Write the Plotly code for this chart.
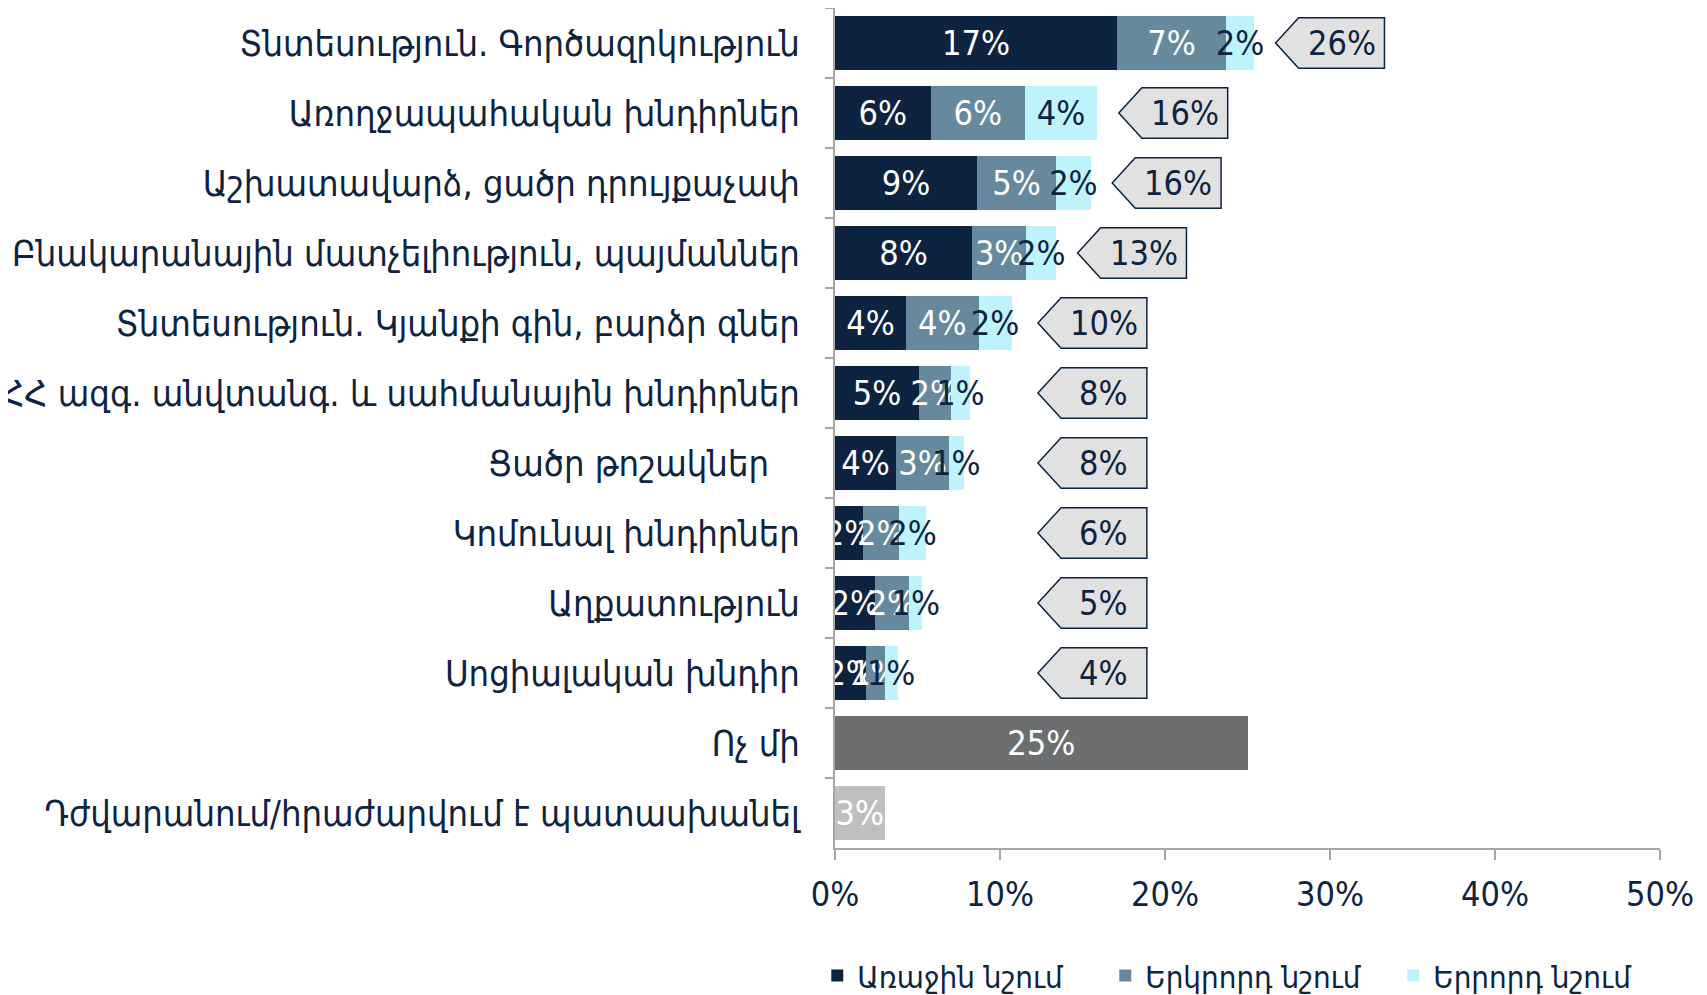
import plotly.graph_objects as go

# categories, top to bottom
categories = [
    "Տնտեսություն. Գործազրկություն",
    "Առողջապահական խնդիրներ",
    "Աշխատավարձ, ցածր դրույքաչափ",
    "Բնակարանային մատչելիություն, պայմաններ",
    "Տնտեսություն. Կյանքի գին, բարձր գներ",
    "ՀՀ ազգ. անվտանգ. և սահմանային խնդիրներ",
    "Ցածր թոշակներ\u00a0\u00a0\u00a0",
    "Կոմունալ խնդիրներ",
    "Աղքատություն",
    "Սոցիալական խնդիր",
    "Ոչ մի",
    "Դժվարանում/հրաժարվում է պատասխանել",
]

# first / second / third mention, % (only the first ten rows)
first_mention = [17.1, 5.8, 8.6, 8.3, 4.3, 5.1, 3.7, 1.7, 2.4, 1.9]
second_mention = [6.6, 5.7, 4.8, 3.3, 4.4, 1.9, 3.2, 2.2, 2.1, 1.1]
third_mention = [1.7, 4.4, 2.1, 1.8, 2.0, 1.2, 0.9, 1.6, 0.8, 0.8]
totals = [26, 16, 16, 13, 10, 8, 8, 6, 5, 4]
none_value = 25.0
refuse_value = 3.0

series_names = ["Առաջին նշում", "Երկրորդ նշում", "Երրորդ նշում"]
series_colors = ["#0e2340", "#66899e", "#bff3fc"]
text_colors = ["white", "white", "#0e2340"]

NAVY = "#0e2340"
AXIS_GREY = "#a6a6a6"
LABEL_FONT = "DejaVu Sans Condensed, DejaVu Sans, sans-serif"
CAT_FONT = "DejaVu Sans Condensed, DejaVu Sans, sans-serif"

n_rows = len(totals)
pad = [None] * (len(categories) - n_rows)

fig = go.Figure()
for vals, name, color, tcolor in zip([first_mention, second_mention, third_mention],
                                     series_names, series_colors, text_colors):
    fig.add_trace(go.Bar(y=categories, x=vals + pad, orientation='h', name=name,
                         marker=dict(color=color, line=dict(width=0)),
                         text=[f"{round(v)}%" for v in vals] + [""] * len(pad),
                         textposition='inside', insidetextanchor='middle', textangle=0,
                         constraintext='none', cliponaxis=False,
                         textfont=dict(family=LABEL_FONT, size=34, color=tcolor),
                         hoverinfo='skip'))

fig.add_trace(go.Bar(y=categories, x=[None] * n_rows + [none_value, None], orientation='h',
                     marker=dict(color="#6d6e70", line=dict(width=0)),
                     text=[""] * n_rows + [f"{round(none_value)}%", ""],
                     textposition='inside', insidetextanchor='middle', textangle=0,
                     constraintext='none', showlegend=False,
                     textfont=dict(family=LABEL_FONT, size=34, color="white"), hoverinfo='skip'))
fig.add_trace(go.Bar(y=categories, x=[None] * (n_rows + 1) + [refuse_value], orientation='h',
                     marker=dict(color="#bfbfbf", line=dict(width=0)),
                     text=[""] * (n_rows + 1) + [f"{round(refuse_value)}%"],
                     textposition='inside', insidetextanchor='middle', textangle=0,
                     constraintext='none', showlegend=False,
                     textfont=dict(family=LABEL_FONT, size=34, color="white"), hoverinfo='skip'))

# callouts with the totals, pointing back at the bars
half_h = 0.36
slant = 1.4
box_w = 6.6
for i in range(n_rows):
    end = first_mention[i] + second_mention[i] + third_mention[i]
    tip = max(end + 1.3, 12.3)
    right = tip + box_w
    path = (f"M {tip},{i} L {tip + slant},{i - half_h} L {right},{i - half_h} "
            f"L {right},{i + half_h} L {tip + slant},{i + half_h} Z")
    fig.add_shape(type='path', path=path, xref='x', yref='y', layer='above',
                  fillcolor="#e1e1e1", line=dict(color=NAVY, width=1.5))
    fig.add_annotation(x=(tip + slant + right) / 2, y=i, xref='x', yref='y',
                       text=f"{totals[i]}%", showarrow=False,
                       font=dict(family=LABEL_FONT, size=34, color=NAVY))

# the page body adds an 8px offset, so the figure is 8px smaller than the window
fig.update_layout(
    barmode='stack', bargap=0.22,
    width=1699, height=987,
    margin=dict(l=827, r=47, t=0, b=147, autoexpand=False),
    plot_bgcolor='white', paper_bgcolor='white',
    legend=dict(orientation='h', x=-0.0215, xanchor='left', y=-0.12, yanchor='top',
                entrywidth=243, entrywidthmode='pixels', itemwidth=30,
                font=dict(family=CAT_FONT, size=31, color=NAVY), traceorder='normal'),
)
fig.update_xaxes(range=[0, 50], tickvals=[0, 10, 20, 30, 40, 50],
                 ticktext=["0%", "10%", "20%", "30%", "40%", "50%"],
                 showgrid=False, zeroline=False, showline=True, linecolor=AXIS_GREY, linewidth=2,
                 ticks='outside', ticklen=10, tickcolor=AXIS_GREY, tickwidth=2,
                 ticklabelstandoff=5,
                 tickfont=dict(family=LABEL_FONT, size=34, color=NAVY))
fig.update_yaxes(autorange='reversed', showgrid=False, showline=True, linecolor=AXIS_GREY,
                 linewidth=2, ticks='outside', ticklen=8, tickcolor=AXIS_GREY, tickwidth=2,
                 tickson='boundaries', ticklabelstandoff=26,
                 tickfont=dict(family=CAT_FONT, size=36, color=NAVY))

fig.write_html("out.html")
